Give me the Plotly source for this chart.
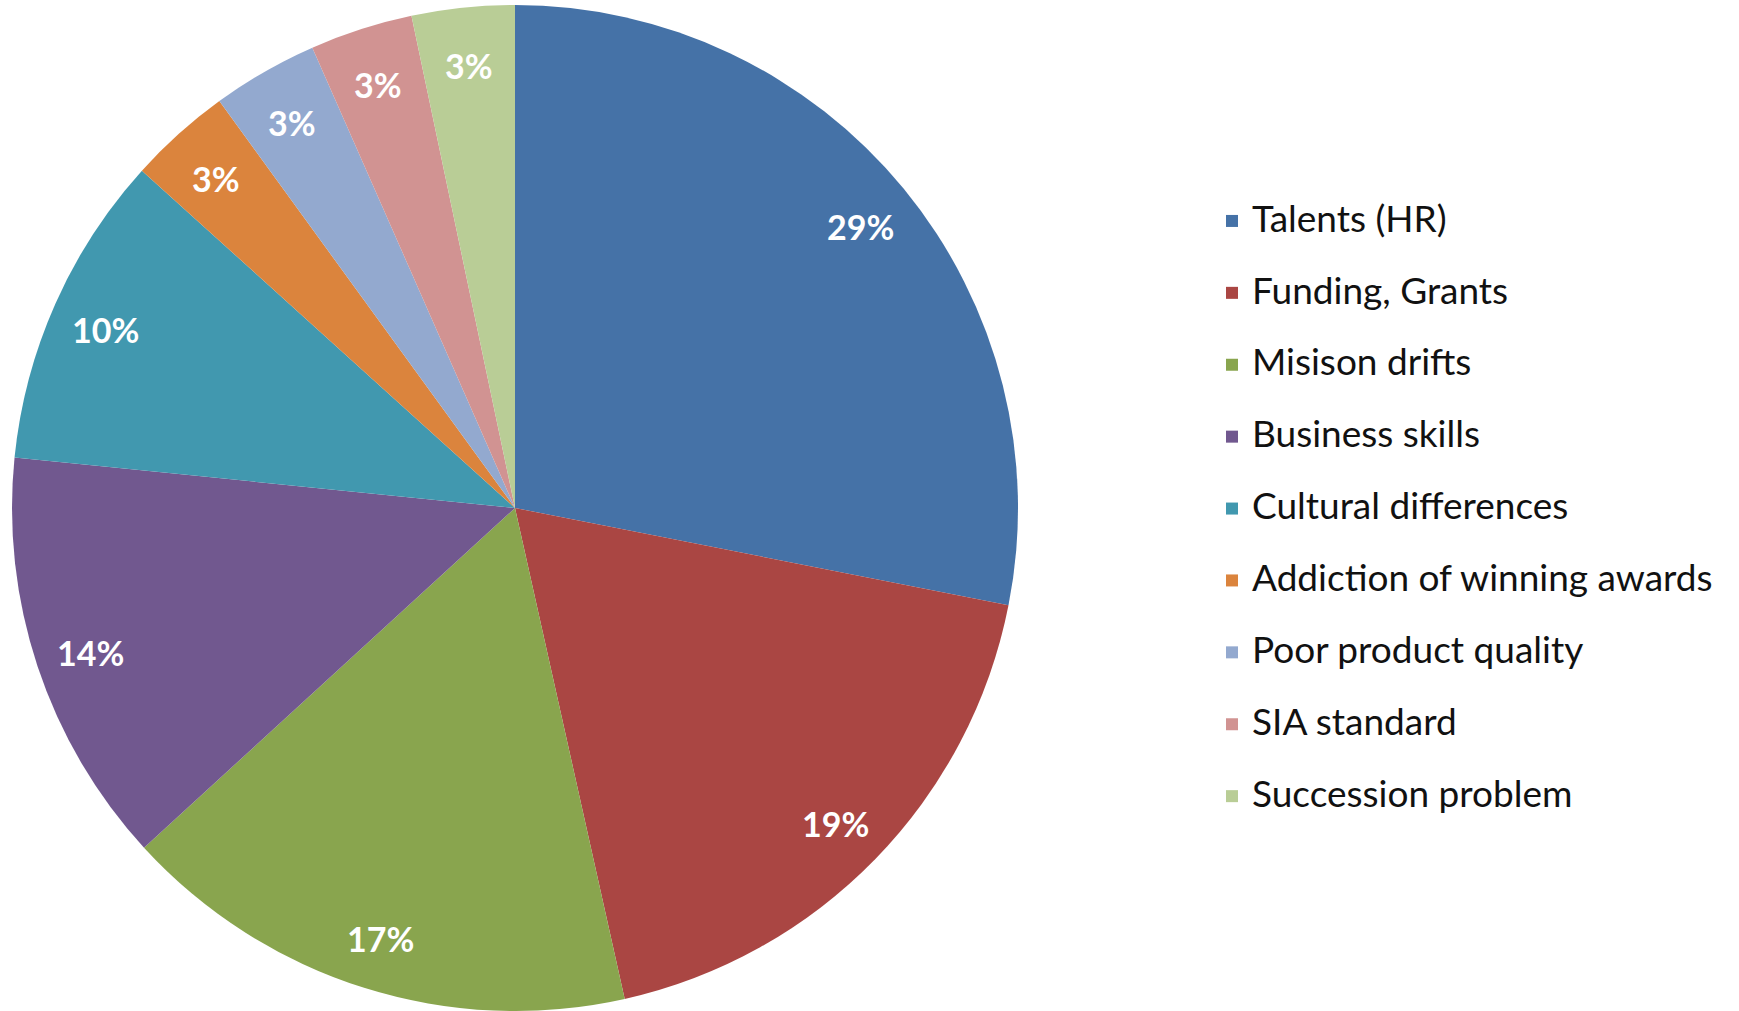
import math
import plotly.graph_objects as go

# ---- data ----
categories = [
    "Talents (HR)",
    "Funding, Grants",
    "Misison drifts",
    "Business skills",
    "Cultural differences",
    "Addiction of winning awards",
    "Poor product quality",
    "SIA standard",
    "Succession problem",
]
# slice shares as measured from the slice angles
shares = [28.1, 18.4, 16.7, 13.4, 10.1, 3.3, 3.4, 3.3, 3.3]
# percentage labels printed on the slices
pct_labels = [29, 19, 17, 14, 10, 3, 3, 3, 3]
colors = ["#4572A7", "#AA4643", "#89A54E", "#71588F", "#4198AF",
          "#DB843D", "#93A9CF", "#D19392", "#B9CD96"]

W, H = 1739, 1011
CX, CY, R = 515.0, 508.0, 503.0  # pie centre / radius in pixels

legend_names = [
    f'<span style="font-size:37px;baseline-shift:10px">{c}</span>' for c in categories
]

fig = go.Figure(
    go.Pie(
        labels=legend_names,
        values=shares,
        sort=False,
        direction="clockwise",
        rotation=0,
        textinfo="none",
        hoverinfo="skip",
        marker=dict(colors=colors, line=dict(color="white", width=0)),
        domain=dict(x=[(CX - R) / W, (CX + R) / W],
                    y=[max(0.0, 1 - (CY + R) / H), 1 - (CY - R) / H]),
    )
)

# percentage labels placed along each slice's mid-angle
total = sum(shares)
cum = 0.0
annotations = []
for v, p in zip(shares, pct_labels):
    mid = (cum + v / 2) / total * 2 * math.pi
    cum += v
    rr = 0.89 * R
    xp = CX + rr * math.sin(mid)
    yp = CY - rr * math.cos(mid)
    annotations.append(dict(
        x=xp / W, y=1 - yp / H, xref="paper", yref="paper",
        text=f"<b>{p}%</b>", showarrow=False,
        font=dict(family="Lato", size=34, color="white"),
        xanchor="center", yanchor="middle", yshift=-3,
    ))

fig.update_layout(
    width=W, height=H,
    margin=dict(l=0, r=0, t=0, b=0),
    paper_bgcolor="white",
    plot_bgcolor="white",
    annotations=annotations,
    showlegend=True,
    legend=dict(
        orientation="v",
        x=1212 / W, xanchor="left",
        y=1 - 509 / H, yanchor="middle",
        font=dict(family="Lato", size=53, color="#111111"),
        bgcolor="rgba(0,0,0,0)",
        itemclick=False, itemdoubleclick=False,
    ),
)

fig.write_html(
    "out.html",
    config={"displayModeBar": False},
    post_script="document.body.style.margin='0';document.body.style.overflow='hidden';",
)
